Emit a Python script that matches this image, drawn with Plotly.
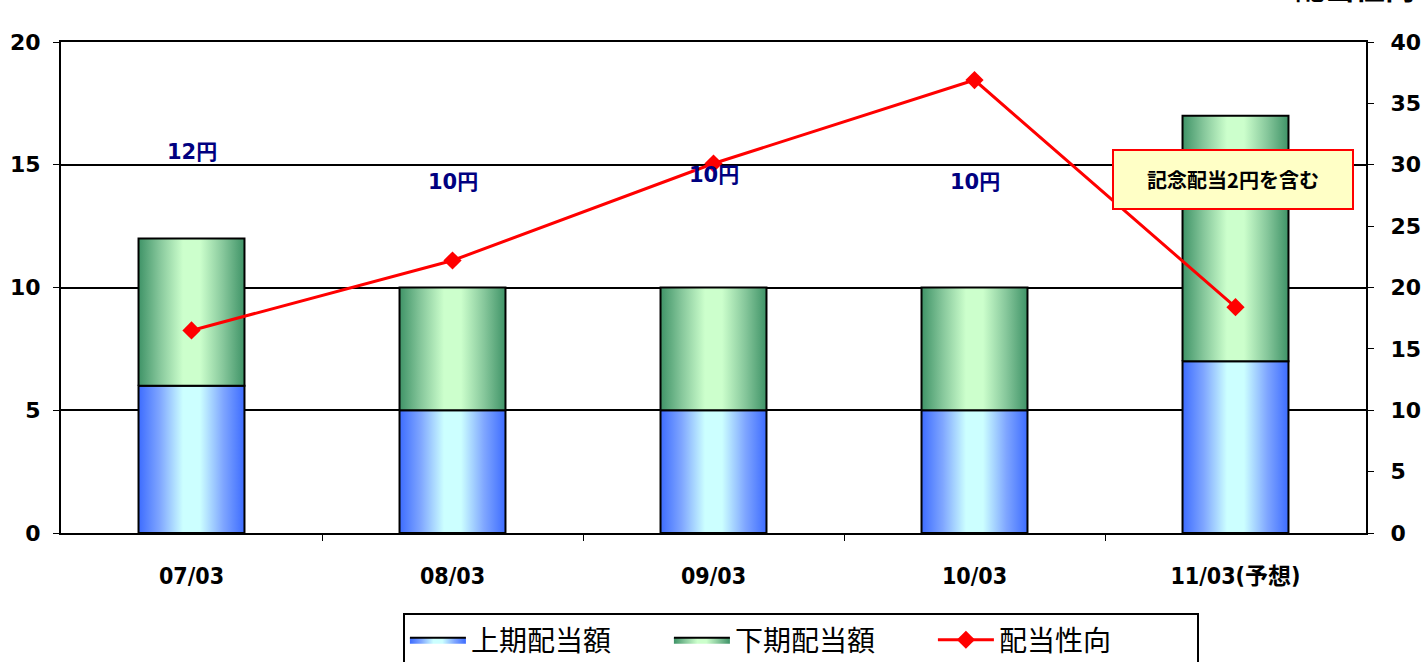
import plotly.graph_objects as go

# ---- data ----
categories = ["07/03", "08/03", "09/03", "10/03", "11/03(予想)"]
first_half = [6, 5, 5, 5, 7]          # 上期配当額
second_half = [6, 5, 5, 5, 10]        # 下期配当額
payout_ratio = [16.5, 22.2, 30.1, 36.9, 18.4]  # 配当性向 (%)
label_y = [15.5, 14.3, 14.6, 14.3, 20.8]       # where the total labels sit
note_text = "記念配当2円を含む"

series_names = ["上期配当額", "下期配当額", "配当性向"]

# ---- styles ----
HALF_W = 0.203
blue_scale = [[0, "#3d6cff"], [0.2, "#7fa6ff"], [0.42, "#ccffff"], [0.58, "#ccffff"],
              [0.8, "#7fa6ff"], [1, "#3d6cff"]]
green_scale = [[0, "#3f9367"], [0.2, "#86c79b"], [0.42, "#ccffcc"], [0.58, "#ccffcc"],
               [0.8, "#86c79b"], [1, "#3f9367"]]
NUM_FONT = "DejaVu Sans, Noto Sans CJK JP"

fig = go.Figure()

def add_segment(i, base, height, scale, name, color, show):
    x0, x1 = i - HALF_W, i + HALF_W
    fig.add_trace(go.Scatter(
        x=[x0, x1, x1, x0, x0], y=[base, base, base + height, base + height, base],
        mode="lines", fill="toself",
        fillcolor=color,
        fillgradient=dict(type="horizontal", colorscale=scale),
        line=dict(color="black", width=2),
        name=name, legendgroup=name, showlegend=show, hoverinfo="skip",
    ))

for i in range(len(categories)):
    add_segment(i, 0, first_half[i], blue_scale, series_names[0], "#9fc4ff", i == 0)
for i in range(len(categories)):
    add_segment(i, first_half[i], second_half[i], green_scale, series_names[1], "#a8ddb5", i == 0)

fig.add_trace(go.Scatter(
    x=list(range(len(categories))), y=payout_ratio, yaxis="y2",
    mode="lines+markers", name=series_names[2],
    line=dict(color="#ff0000", width=3),
    marker=dict(symbol="diamond", size=14, color="#ff0000"),
))

# total labels
for i in range(len(categories)):
    total = first_half[i] + second_half[i]
    fig.add_annotation(x=i, y=label_y[i], text=f"{total}円", showarrow=False,
                       font=dict(family=NUM_FONT, size=21, color="#000080", weight="bold"))

# note box
fig.add_annotation(x=3.99, y=14.4, text=note_text, showarrow=False,
                   font=dict(family="Noto Sans CJK JP", size=20, color="black", weight="bold"),
                   bgcolor="#ffffc6", bordercolor="#ff0000", borderwidth=2,
                   width=236, height=55)

# cut-off right axis title
fig.add_annotation(xref="paper", yref="paper", x=0.944, y=1.066, xanchor="left",
                   yanchor="bottom", text="配当性向", showarrow=False,
                   font=dict(family="Noto Sans CJK JP", size=30, color="black", weight="bold"))

fig.update_layout(
    width=1421, height=662,
    margin=dict(l=61, r=55, t=42, b=129, autoexpand=False),
    plot_bgcolor="white", paper_bgcolor="white",
    showlegend=True,
    legend=dict(orientation="h", x=0.262, xanchor="left", y=-0.163, yanchor="top",
                bordercolor="black", borderwidth=2,
                font=dict(family="Noto Sans CJK JP", size=28, color="black"),
                itemwidth=56, traceorder="normal",
                entrywidth=193, entrywidthmode="pixels"),
    xaxis=dict(range=[-0.5, len(categories) - 0.5],
               tickvals=list(range(len(categories))), ticktext=categories,
               showgrid=False, zeroline=False,
               showline=True, linecolor="black", linewidth=2, mirror=True,
               ticks="",
               minor=dict(tickvals=[i + 0.5 for i in range(len(categories) - 1)],
                          ticks="outside", ticklen=6, tickcolor="black", tickwidth=1),
               tickfont=dict(family="DejaVu Sans Condensed, Noto Sans CJK JP", size=23,
                             color="black", weight="bold"),
               ticklabelstandoff=21),
    yaxis=dict(range=[0, 20], dtick=5, showgrid=True, gridcolor="black", gridwidth=1.5,
               zeroline=False, showline=True, linecolor="black", linewidth=2,
               ticks="outside", ticklen=6, tickcolor="black",
               tickfont=dict(family=NUM_FONT, size=22, color="black", weight="bold"),
               ticklabelstandoff=8),
    yaxis2=dict(range=[0, 40], dtick=5, overlaying="y", side="right", showgrid=False,
                zeroline=False, showline=True, linecolor="black", linewidth=2,
                ticks="outside", ticklen=6, tickcolor="black",
                tickfont=dict(family=NUM_FONT, size=22, color="black", weight="bold"),
                ticklabelstandoff=12),
)

fig.write_html("out.html", config={"displayModeBar": False},
               post_script="document.body.style.margin='0';document.body.style.overflow='hidden';")
